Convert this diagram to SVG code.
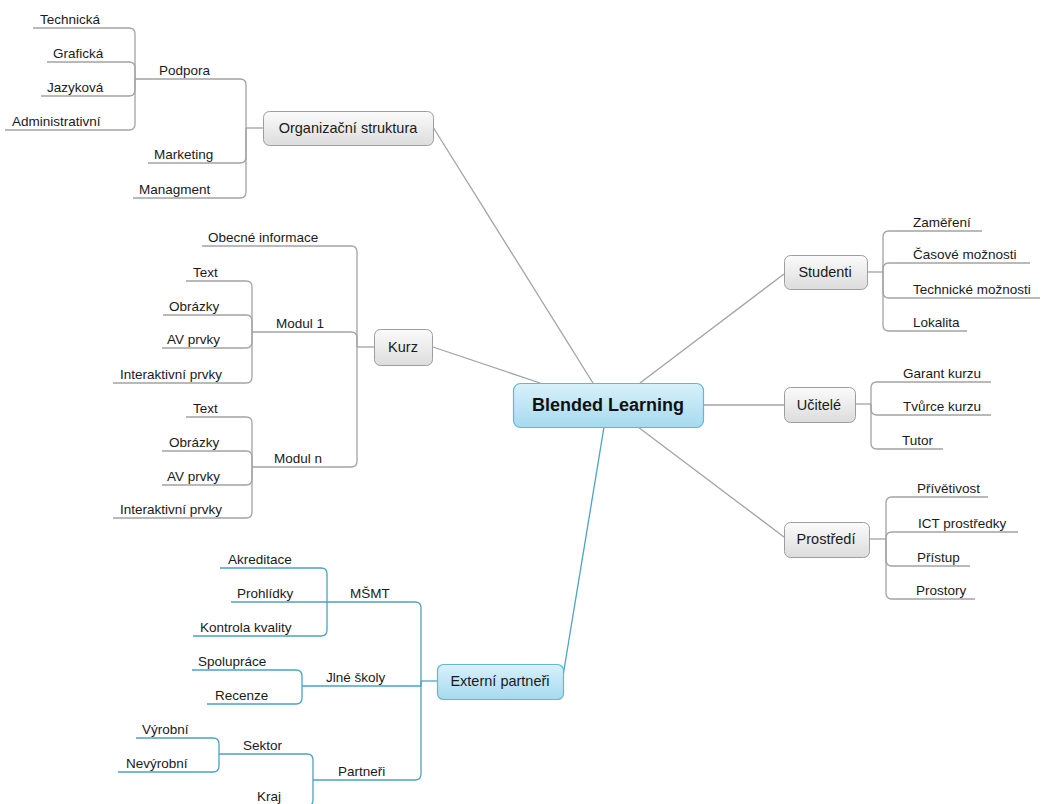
<svg xmlns="http://www.w3.org/2000/svg" width="1041" height="804" viewBox="0 0 1041 804">
<defs>
<linearGradient id="gGray" x1="0" y1="0" x2="0" y2="1"><stop offset="0" stop-color="#fbfbfb"/><stop offset="1" stop-color="#dcdcdc"/></linearGradient>
<linearGradient id="gBlue" x1="0" y1="0" x2="0" y2="1"><stop offset="0" stop-color="#d8f1fb"/><stop offset="1" stop-color="#a6daef"/></linearGradient>
</defs>
<style>
.ln{fill:none;stroke:#a3a3a3;stroke-width:1.3}
.bl{fill:none;stroke:#4ba3c6;stroke-width:1.3}
.nd{fill:url(#gGray);stroke:#9e9e9e;stroke-width:1}
.nb{fill:url(#gBlue);stroke:#62b6d8;stroke-width:1.2}
text{font-family:"Liberation Sans",Arial,sans-serif;fill:#1a1a1a}
.lf{font-size:13.5px}
.nt{font-size:14.5px;text-anchor:middle}
.ct{font-size:18px;font-weight:bold;text-anchor:middle;fill:#111}
</style>
<rect width="1041" height="804" fill="#ffffff"/>
<g id="connectors">
<line class="ln" x1="433" y1="127" x2="593" y2="383"/>
<line class="ln" x1="433" y1="347" x2="540" y2="383"/>
<line class="ln" x1="784" y1="274" x2="640" y2="383"/>
<line class="ln" x1="703" y1="405" x2="784" y2="405"/>
<line class="ln" x1="638" y1="427" x2="784" y2="537"/>
<line class="bl" x1="604" y1="427" x2="563" y2="676"/>
<!-- Organizacni struktura -->
<path class="ln" d="M263,128 H246"/>
<path class="ln" d="M246,128 V85 Q246,79 240,79 H135"/>
<path class="ln" d="M246,128 V157 Q246,163 240,163 H148"/>
<path class="ln" d="M246,128 V192 Q246,198 240,198 H133"/>
<path class="ln" d="M135,79 V34 Q135,28 129,28 H33"/>
<path class="ln" d="M135,79 V68 Q135,62 129,62 H47"/>
<path class="ln" d="M135,79 V90 Q135,96 129,96 H41"/>
<path class="ln" d="M135,79 V124 Q135,130 129,130 H5"/>
<!-- Kurz -->
<path class="ln" d="M374,347 H357"/>
<path class="ln" d="M357,347 V252 Q357,246 351,246 H202"/>
<path class="ln" d="M357,347 V338 Q357,332 351,332 H252"/>
<path class="ln" d="M357,347 V461 Q357,467 351,467 H252"/>
<path class="ln" d="M252,332 V287 Q252,281 246,281 H186"/>
<path class="ln" d="M252,332 V321 Q252,315 246,315 H163"/>
<path class="ln" d="M252,332 V342 Q252,348 246,348 H162"/>
<path class="ln" d="M252,332 V377 Q252,383 246,383 H113"/>
<path class="ln" d="M252,467 V423 Q252,417 246,417 H186"/>
<path class="ln" d="M252,467 V457 Q252,451 246,451 H162"/>
<path class="ln" d="M252,467 V479 Q252,485 246,485 H162"/>
<path class="ln" d="M252,467 V512 Q252,518 246,518 H113"/>
<!-- Studenti -->
<path class="ln" d="M867,272 H883"/>
<path class="ln" d="M883,272 V237 Q883,231 889,231 H982"/>
<path class="ln" d="M883,272 V269 Q883,263 889,263 H1030"/>
<path class="ln" d="M883,272 V292 Q883,298 889,298 H1040"/>
<path class="ln" d="M883,272 V325 Q883,331 889,331 H967"/>
<!-- Ucitele -->
<path class="ln" d="M855,404 H871"/>
<path class="ln" d="M871,404 V388 Q871,382 877,382 H991"/>
<path class="ln" d="M871,404 V409 Q871,415 877,415 H991"/>
<path class="ln" d="M871,404 V443 Q871,449 877,449 H943"/>
<!-- Prostredi -->
<path class="ln" d="M869,539 H886"/>
<path class="ln" d="M886,539 V503 Q886,497 892,497 H988"/>
<path class="ln" d="M886,539 V538 Q886,532 892,532 H1018"/>
<path class="ln" d="M886,539 V560 Q886,566 892,566 H970"/>
<path class="ln" d="M886,539 V593 Q886,599 892,599 H975"/>
<!-- Externi partneri -->
<path class="bl" d="M437,681 H421"/>
<path class="bl" d="M421,681 V608 Q421,602 415,602 H327"/>
<path class="bl" d="M421,681 V686 H302"/>
<path class="bl" d="M421,681 V774 Q421,780 415,780 H313"/>
<path class="bl" d="M327,602 V574 Q327,568 321,568 H220"/>
<path class="bl" d="M327,602 H231"/>
<path class="bl" d="M327,602 V630 Q327,636 321,636 H193"/>
<path class="bl" d="M302,686 V676 Q302,670 296,670 H192"/>
<path class="bl" d="M302,686 V698 Q302,704 296,704 H207"/>
<path class="bl" d="M313,780 V760 Q313,754 307,754 H219"/>
<path class="bl" d="M313,780 V800 Q313,806 307,806 H250"/>
<path class="bl" d="M219,754 V744 Q219,738 213,738 H136"/>
<path class="bl" d="M219,754 V766 Q219,772 213,772 H118"/>
</g>
<g id="n-center"><rect class="nb" x="513.5" y="383.5" width="190" height="44" rx="7"/><text class="ct" x="608" y="411">Blended Learning</text></g>
<g id="n-org"><rect class="nd" x="263.5" y="111.5" width="170" height="34" rx="6"/><text class="nt" x="348" y="133">Organizační struktura</text></g>
<g id="n-kurz"><rect class="nd" x="374.5" y="329.5" width="58" height="36" rx="6"/><text class="nt" x="403" y="352">Kurz</text></g>
<g id="n-studenti"><rect class="nd" x="784.5" y="255.5" width="83" height="34" rx="6"/><text class="nt" x="825" y="277">Studenti</text></g>
<g id="n-ucitele"><rect class="nd" x="784.5" y="387.5" width="71" height="35" rx="6"/><text class="nt" x="819" y="410">Učitelé</text></g>
<g id="n-prostredi"><rect class="nd" x="784.5" y="522.5" width="85" height="35" rx="6"/><text class="nt" x="826" y="544">Prostředí</text></g>
<g id="n-externi"><rect class="nb" x="437.5" y="664.5" width="126" height="35" rx="6"/><text class="nt" x="500" y="686">Externí partneři</text></g>
<g id="leaves-org">
<text class="lf" x="40" y="24">Technická</text>
<text class="lf" x="53" y="58">Grafická</text>
<text class="lf" x="159" y="75">Podpora</text>
<text class="lf" x="47" y="92">Jazyková</text>
<text class="lf" x="12" y="126">Administrativní</text>
<text class="lf" x="154" y="159">Marketing</text>
<text class="lf" x="139" y="194">Managment</text>
</g>
<g id="leaves-kurz">
<text class="lf" x="208" y="242">Obecné informace</text>
<text class="lf" x="193" y="277">Text</text>
<text class="lf" x="169" y="311">Obrázky</text>
<text class="lf" x="276" y="328">Modul 1</text>
<text class="lf" x="167" y="344">AV prvky</text>
<text class="lf" x="120" y="379">Interaktivní prvky</text>
<text class="lf" x="193" y="413">Text</text>
<text class="lf" x="169" y="447">Obrázky</text>
<text class="lf" x="274" y="463">Modul n</text>
<text class="lf" x="167" y="481">AV prvky</text>
<text class="lf" x="120" y="514">Interaktivní prvky</text>
</g>
<g id="leaves-studenti">
<text class="lf" x="913" y="227">Zaměření</text>
<text class="lf" x="913" y="259">Časové možnosti</text>
<text class="lf" x="913" y="294">Technické možnosti</text>
<text class="lf" x="913" y="327">Lokalita</text>
</g>
<g id="leaves-ucitele">
<text class="lf" x="903" y="378">Garant kurzu</text>
<text class="lf" x="903" y="411">Tvůrce kurzu</text>
<text class="lf" x="902" y="445">Tutor</text>
</g>
<g id="leaves-prostredi">
<text class="lf" x="917" y="493">Přívětivost</text>
<text class="lf" x="918" y="528">ICT prostředky</text>
<text class="lf" x="917" y="562">Přístup</text>
<text class="lf" x="916" y="595">Prostory</text>
</g>
<g id="leaves-externi">
<text class="lf" x="228" y="564">Akreditace</text>
<text class="lf" x="237" y="598">Prohlídky</text>
<text class="lf" x="350" y="598">MŠMT</text>
<text class="lf" x="200" y="632">Kontrola kvality</text>
<text class="lf" x="198" y="666">Spolupráce</text>
<text class="lf" x="326" y="682">Jlné školy</text>
<text class="lf" x="215" y="700">Recenze</text>
<text class="lf" x="142" y="734">Výrobní</text>
<text class="lf" x="243" y="750">Sektor</text>
<text class="lf" x="126" y="768">Nevýrobní</text>
<text class="lf" x="338" y="776">Partneři</text>
<text class="lf" x="257" y="801">Kraj</text>
</g>
</svg>
